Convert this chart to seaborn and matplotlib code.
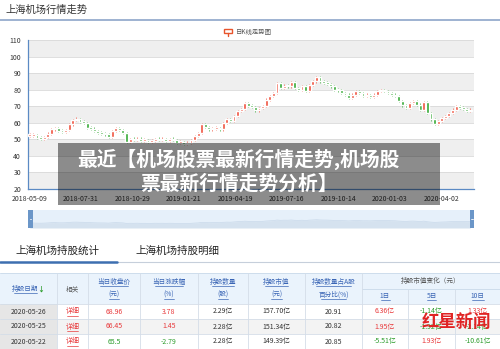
import numpy as np
import pandas as pd
import seaborn as sns
from matplotlib import pyplot as plt
from matplotlib.patches import Rectangle

sns.set_theme(style="white")
plt.rcParams['font.family'] = ['Noto Sans CJK SC', 'DejaVu Sans']

# closing prices, one every 4 trading days (2018-05-09 .. 2020-05-26)
closes = [52, 52.5, 51, 50.5, 51.5, 53.5, 56, 57, 55, 54.5,
          55.5, 59, 61.5, 62, 60.5, 60, 57, 56.5, 55, 54,
          53.5, 53, 51.5, 55, 57, 55.5, 54, 48.5, 50, 49.5,
          50.5, 49, 49.5, 48.5, 49, 50, 49.5, 50, 49, 50,
          49.5, 48, 48.5, 47, 48, 49.5, 52, 54, 59, 57.5,
          56, 56.5, 57, 56, 60, 62, 61, 64, 67, 68.5,
          72, 70, 69.5, 67.5, 69, 70, 74, 76, 78, 84,
          81, 82.5, 82, 84.5, 81, 80, 82, 79, 83, 85,
          87.5, 85, 84, 83.5, 82, 80, 79.5, 78, 77, 75,
          77, 79, 78, 76, 76.5, 75.5, 77, 79, 80, 79,
          78, 77, 76, 73, 70.5, 69, 72, 73, 71, 68,
          72.5, 66, 62, 59.5, 61, 63, 64, 66, 68, 70,
          69, 68.5, 67, 68]
step = 4
tickDays = [0, 57, 115, 172, 230, 287, 345, 402, 460]
tickLabels = ['2018-05-09', '2018-07-31', '2018-10-29', '2019-01-21', '2019-04-19',
              '2019-07-16', '2019-10-14', '2020-01-03', '2020-04-02']
yTicks = list(range(20, 111, 10))

tableDates = ['2020-05-26', '2020-05-25', '2020-05-22']
closePrice = ['68.96', '66.45', '65.5']
pctChange = ['3.78', '1.45', '-2.79']
holdShares = ['2.29亿', '2.28亿', '2.28亿']
holdValue = ['157.70亿', '151.34亿', '149.39亿']
holdRatio = ['20.91', '20.82', '20.85']
chg1 = ['6.36亿', '1.95亿', '-5.51亿']
chg5 = ['-1.14亿', '-1.92亿', '1.93亿']
chg10 = ['1.33亿', '-2.14亿', '-10.61亿']

RED = '#e8393b'
GREEN = '#2b9c2b'
BLUE = '#3a65b5'

df = pd.DataFrame({'day': np.arange(len(closes)) * step, 'close': closes})
df['open'] = df['close'].shift(1).fillna(df['close'])
df['up'] = df['close'] >= df['open']

fig = plt.figure(figsize=(5, 3.49), dpi=100)

# ---- main K line chart
ax = fig.add_axes([28/500, 160/349, 446/500, 149/349])
for lo in range(20, 110, 20):
    ax.axhspan(lo, lo + 10, color='#efefef', lw=0, zorder=0)
for y in yTicks:
    ax.axhline(y, color='#d9d9d9', lw=0.6, zorder=1)
body = (df['close'] - df['open']).abs().clip(lower=1.0)
bottom = df[['close', 'open']].min(axis=1)
candleColors = np.where(df['up'], '#f0503c', '#33a833')
ax.vlines(df['day'], bottom - 0.7, bottom + body + 0.7, colors=candleColors, lw=0.5, zorder=2)
ax.bar(df['day'], body, bottom=bottom, width=3.2, color=candleColors, zorder=3)
ax.set_xlim(-2, 496)
ax.set_ylim(20, 110)
ax.set_yticks(yTicks)
ax.set_xticks(tickDays)
ax.set_xticklabels(tickLabels)
ax.tick_params(axis='y', labelsize=5, colors='#333333', length=0, pad=5)
ax.tick_params(axis='x', labelsize=5, colors='#333333', length=2.5, width=0.6,
               color='#5b8ac4', pad=1.5)
for s in ['top', 'right']:
    ax.spines[s].set_visible(False)
for s in ['left', 'bottom']:
    ax.spines[s].set_color('#5b8ac4')
    ax.spines[s].set_linewidth(0.9)
ax.set_facecolor('white')

# ---- navigator strip
nav = fig.add_axes([28/500, (349-228)/349, 446/500, 18/349])
nav.set_facecolor('#e6f0fa')
nav.fill_between(df['day'], df['close'], 0, color='#d5e2ef', lw=0)
sns.lineplot(data=df, x='day', y='close', ax=nav, color='#c9d9ea', lw=0.5)
nav.set_xlim(-2, 496)
nav.set_ylim(0, 190)
nav.set_xticks([])
nav.set_yticks([])
nav.set_xlabel('')
nav.set_ylabel('')
for s in nav.spines.values():
    s.set_visible(False)

# ---- page elements in pixel coordinates
pg = fig.add_axes([0, 0, 1, 1], zorder=5)
pg.set_xlim(0, 500)
pg.set_ylim(349, 0)
pg.axis('off')
pg.patch.set_alpha(0)

pg.text(5, 10, '上海机场行情走势', fontsize=7.4, color='#333333', va='center')
pg.plot([0, 500], [19.5, 19.5], color='#8ea6c9', lw=1.2)

# chart legend
pg.add_patch(Rectangle((224, 29), 8, 4, fill=False, ec='#e8542c', lw=1))
pg.plot([228, 228], [33, 36], color='#e8542c', lw=1)
pg.text(236, 32, '日K线走势图', fontsize=4.6, color='#555555', va='center')

# navigator handles
for hx in [28, 469.5]:
    pg.add_patch(Rectangle((hx, 210), 4.5, 18, color='#6b96c8', lw=0))
    pg.plot([hx + 1.5, hx + 3], [219, 219], color='white', lw=0.6)

# overlay title box
pg.add_patch(Rectangle((58, 143), 382, 62, color='black', alpha=0.45, lw=0))
pg.text(238, 159, '最近【机场股票最新行情走势,机场股', fontsize=14.2, color='white',
        weight='bold', ha='center', va='center')
pg.text(239, 184, '票最新行情走势分析】', fontsize=14.2, color='white',
        weight='bold', ha='center', va='center')

# tabs
pg.text(15, 251, '上海机场持股统计', fontsize=7.6, color='#222222', va='center')
pg.text(135, 251, '上海机场持股明细', fontsize=7.6, color='#222222', va='center')
pg.plot([117, 500], [261.5, 261.5], color='#c6cfdb', lw=0.8)
pg.plot([0, 117], [261.5, 261.5], color='#3d6fb0', lw=1.8)

# table
colEdges = [0, 57, 88, 140, 198, 248, 305, 362, 408, 455, 500]
rowEdges = [304, 319, 334, 349]
pg.add_patch(Rectangle((0, 273), 500, 31, color='#eaf3fc', lw=0))
pg.add_patch(Rectangle((0, 319), 500, 15, color='#f3f3f3', lw=0))
pg.add_patch(Rectangle((0, 304), 57, 45, color='#e6e6e6', lw=0))
pg.plot([0, 500], [273, 273], color='#c9d9ea', lw=0.6)
pg.plot([362, 500], [289, 289], color='#c9d9ea', lw=0.6)
for y in rowEdges:
    pg.plot([0, 500], [y, y], color='#d4dde8', lw=0.6)
for x in colEdges[1:-1]:
    top = 289 if x in (408, 455) else 273
    pg.plot([x, x], [top, 349], color='#d4dde8', lw=0.6)

centers = [(a + b) / 2 for a, b in zip(colEdges[:-1], colEdges[1:])]


def link(x, y, s, cw=5.6):
    pg.text(x, y, s, fontsize=4.8, color=BLUE, ha='center', va='center')
    w = len(s) * cw / 2
    pg.plot([x - w, x + w], [y + 4, y + 4], color=BLUE, lw=0.5)


link(centers[0] - 3, 289, '持股日期')
pg.text(centers[0] + 12, 289, '↓', fontsize=5, color=GREEN, ha='center', va='center',
        weight='bold')
pg.text(centers[1], 289, '相关', fontsize=4.8, color='#555555', ha='center', va='center')
link(centers[2], 282, '当日收盘价')
link(centers[2], 295, '(元)', cw=3.5)
link(centers[3], 282, '当日涨跌幅')
link(centers[3], 295, '(%)', cw=3.5)
link(centers[4], 282, '持股数量')
link(centers[4], 295, '(股)', cw=3.5)
link(centers[5], 282, '持股市值')
link(centers[5], 295, '(元)', cw=3.5)
link(centers[6], 282, '持股数量占A股', cw=5.0)
link(centers[6], 295, '百分比(%)', cw=4.2)
pg.text(431, 281, '持股市值变化（元）', fontsize=4.8, color='#555555', ha='center', va='center')
link(centers[7], 296, '1日', cw=4.5)
link(centers[8], 296, '5日', cw=4.5)
link(centers[9], 296, '10日', cw=4.0)


def sign_color(s):
    return GREEN if s.startswith('-') else RED


for r in range(3):
    yc = (rowEdges[r] + rowEdges[r + 1]) / 2
    pg.text(centers[0], yc, tableDates[r], fontsize=5, color='#333333', ha='center', va='center')
    pg.text(centers[1], yc, '详细', fontsize=5, color=RED, ha='center', va='center')
    pg.plot([centers[1] - 5.5, centers[1] + 5.5], [yc + 4, yc + 4], color=RED, lw=0.5)
    pcol = sign_color(pctChange[r])
    pg.text(centers[2], yc, closePrice[r], fontsize=5, color=pcol, ha='center', va='center')
    pg.text(centers[3], yc, pctChange[r], fontsize=5, color=pcol, ha='center', va='center')
    pg.text(centers[4], yc, holdShares[r], fontsize=5, color='#333333', ha='center', va='center')
    pg.text(centers[5], yc, holdValue[r], fontsize=5, color='#333333', ha='center', va='center')
    pg.text(centers[6], yc, holdRatio[r], fontsize=5, color='#333333', ha='center', va='center')
    for c, vals in zip(centers[7:], [chg1, chg5, chg10]):
        pg.text(c, yc, vals[r], fontsize=5, color=sign_color(vals[r]), ha='center', va='center')

# watermark
pg.text(456, 322, '红星新闻', fontsize=12.5, color='#e02424', weight='bold',
        ha='center', va='center')

fig.savefig('out.png', dpi=100)
